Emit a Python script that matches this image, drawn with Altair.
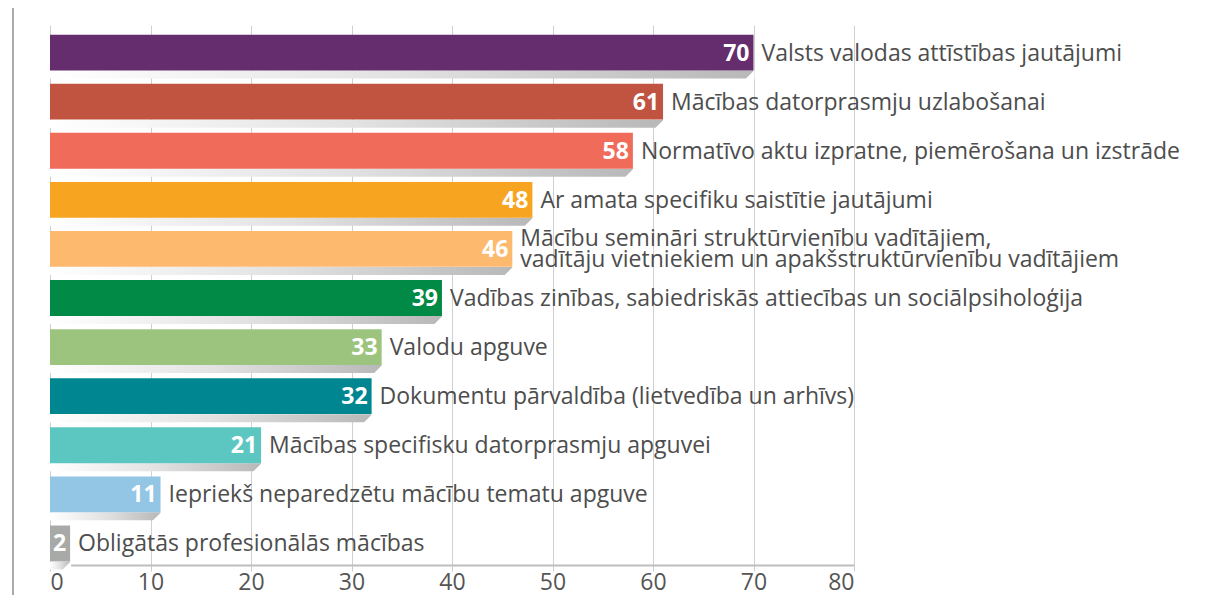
import altair as alt
import pandas as pd

categories = [
    "Valsts valodas attīstības jautājumi",
    "Mācības datorprasmju uzlabošanai",
    "Normatīvo aktu izpratne, piemērošana un izstrāde",
    "Ar amata specifiku saistītie jautājumi",
    "Mācību semināri struktūrvienību vadītājiem,\nvadītāju vietniekiem un apakšstruktūrvienību vadītājiem",
    "Vadības zinības, sabiedriskās attiecības un sociālpsiholoģija",
    "Valodu apguve",
    "Dokumentu pārvaldība (lietvedība un arhīvs)",
    "Mācības specifisku datorprasmju apguvei",
    "Iepriekš neparedzētu mācību tematu apguve",
    "Obligātās profesionālās mācības",
]
values = [70, 61, 58, 48, 46, 39, 33, 32, 21, 11, 2]
colors = ["#652c6e", "#c05440", "#f06b5a", "#f7a520", "#fdba6e", "#008a45",
          "#9cc47e", "#008691", "#5cc6c1", "#93c5e5", "#a7aaa6"]
ticks = [0, 10, 20, 30, 40, 50, 60, 70, 80]

df = pd.DataFrame({"rank": list(range(len(categories))), "cat": categories, "value": values})
df["lines"] = df["cat"].str.count("\n") + 1

FONT = "Open Sans"

y = alt.Y("rank:O", axis=None, scale=alt.Scale(paddingInner=0.27, paddingOuter=0.135))
x = alt.X("value:Q", scale=alt.Scale(domain=[0, 80]),
          axis=alt.Axis(values=ticks, grid=True, gridColor="#d0d0d0", domainColor="#bdbdbd",
                        domainWidth=2, tickColor="#cccccc", tickSize=6, labelFontSize=23,
                        labelColor="#555555", labelFont=FONT, labelPadding=0, title=None))

base = alt.Chart(df)

left_rule = base.mark_rule(color="#aaaaaa", strokeWidth=2).encode(
    x=alt.value(-37), y=alt.value(-17), y2=alt.value(580)
)

shadow = base.mark_bar(height=8, yOffset=25).encode(
    x=x, y=y,
    color=alt.value(alt.Gradient(gradient="linear", x1=0, x2=1, y1=0, y2=0,
                                 stops=[alt.GradientStop(color="#ffffff", offset=0),
                                        alt.GradientStop(color="#e2e2e2", offset=0.5),
                                        alt.GradientStop(color="#b8b8b8", offset=1)])),
)

cut = base.mark_point(shape="M0.1,-0.45 L0.1,0.5 L-0.85,0.5 Z", size=400, filled=True,
                      color="white", opacity=1, strokeWidth=0, yOffset=25).encode(x=x, y=y)

bars = base.mark_bar(yOffset=3).encode(
    x=x, y=y,
    color=alt.Color("cat:N", scale=alt.Scale(domain=categories, range=colors), legend=None),
)

vals = base.mark_text(align="right", baseline="middle", dx=-4, yOffset=4, font=FONT,
                      fontSize=23, fontWeight="bold", color="white").encode(
    x=x, y=y, text="value:Q")

labels1 = base.transform_filter("datum.lines == 1").mark_text(
    align="left", baseline="middle", dx=8, yOffset=4, font=FONT,
    fontSize=23, color="#4d4d4d").encode(x=x, y=y, text="cat:N")

labels2 = base.transform_filter("datum.lines > 1").mark_text(
    align="left", baseline="middle", dx=8, yOffset=-7, font=FONT,
    fontSize=23, color="#4d4d4d", lineBreak="\n", lineHeight=21).encode(x=x, y=y, text="cat:N")

chart = alt.layer(left_rule, shadow, cut, bars, vals, labels1, labels2).properties(
    width=804, height=540,
    autosize=alt.AutoSizeParams(type="none"),
    padding={"left": 42, "top": 17, "right": 350, "bottom": 30},
).configure_view(stroke=None)

chart.save("out.html", embed_options={"renderer": "svg", "actions": False})
